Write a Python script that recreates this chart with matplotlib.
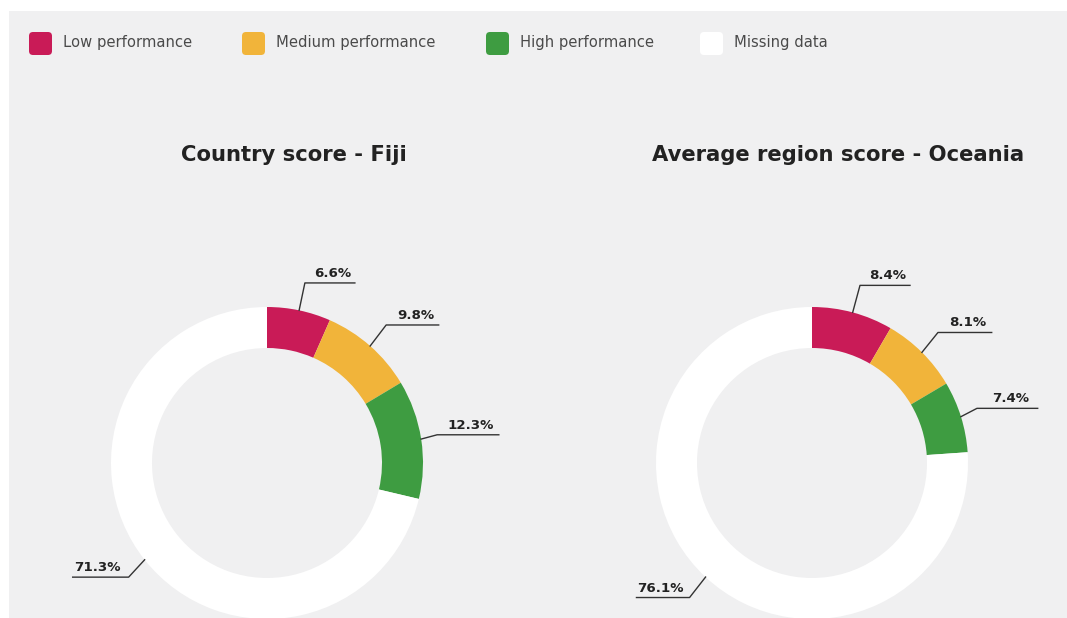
import numpy as np
import matplotlib
matplotlib.use("Agg")
from matplotlib import pyplot as plt
from matplotlib.patches import Rectangle, FancyBboxPatch

plt.rcParams['font.family'] = ['DejaVu Sans']

categories = ["Low performance", "Medium performance", "High performance", "Missing data"]
colors = ["#c91b57", "#f1b43a", "#3e9c41", "#ffffff"]

fiji_values = [6.6, 9.8, 12.3, 71.3]
oceania_values = [8.4, 8.1, 7.4, 76.1]
titles = ["Country score - Fiji", "Average region score - Oceania"]

W, H = 1067, 618
fig = plt.figure(figsize=(W / 100, H / 100), dpi=100)
fig.patch.set_facecolor("white")
ax = fig.add_axes([0, 0, 1, 1])

bg = "#f0f0f1"
ax.add_patch(Rectangle((9, -10), W, H - 1, facecolor=bg, edgecolor="none", zorder=0))

# legend
leg_x = [29, 242, 486, 700]
for x, c, name in zip(leg_x, colors, categories):
    ax.add_patch(FancyBboxPatch((x + 3, 566), 17, 17, boxstyle="round,pad=3,rounding_size=4",
                                facecolor=c, edgecolor="none", zorder=2))
    ax.text(x + 34, 575, name, fontsize=10.6, color="#4a4a4a", va="center", ha="left")

R, width = 156, 41
centers = [(267, 155), (812, 155)]
title_x = [294, 838]


def donut(values, center, title, tx):
    ax.pie(values, colors=colors, startangle=90, counterclock=False, radius=R,
           center=center, wedgeprops=dict(width=width, edgecolor="none"))
    ax.text(tx, 463, title, fontsize=15.2, fontweight="bold", color="#222222",
            ha="center", va="center")
    cum = 0
    for v in values:
        a = np.deg2rad(90 - 360 * (cum + v / 2) / 100)
        cum += v
        px = center[0] + R * np.cos(a)
        py = center[1] + R * np.sin(a)
        dx = 28 * np.cos(a)
        ex = px + np.clip(dx, -16, 16)
        ey = py + 28 * np.sin(a)
        s = 1 if np.cos(a) >= 0 else -1
        fx = px + dx + s * 50
        ax.plot([px, ex, fx], [py, ey, ey], color="#333333", lw=1, zorder=3)
        ax.text((ex + fx) / 2 + s * 3, ey + 3, f"{v}%", fontsize=9.6, fontweight="bold",
                color="#222222", ha="center", va="bottom", zorder=3)


for vals, c, t, tx in zip([fiji_values, oceania_values], centers, titles, title_x):
    donut(vals, c, t, tx)

ax.set_xlim(0, W)
ax.set_ylim(0, H)
ax.set_aspect("auto")
ax.axis("off")

fig.savefig("out.png", dpi=100, facecolor=fig.get_facecolor())
